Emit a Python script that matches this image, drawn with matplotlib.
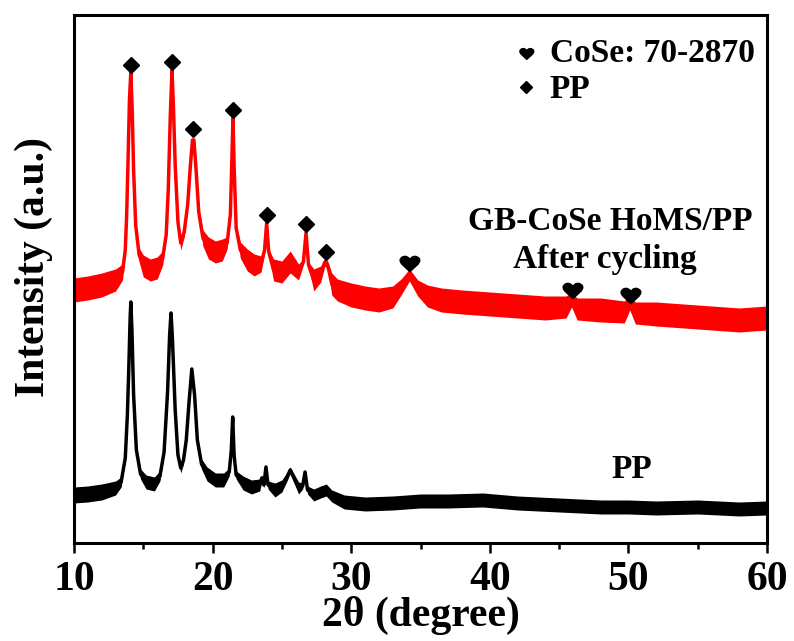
import matplotlib
matplotlib.use("Agg")
import matplotlib.pyplot as plt
import numpy as np
from matplotlib.lines import Line2D
from matplotlib.path import Path
from matplotlib.textpath import TextPath
from matplotlib.font_manager import FontProperties
from matplotlib.ticker import MultipleLocator

plt.rcParams["font.family"] = ["Liberation Serif", "DejaVu Serif"]
plt.rcParams["font.weight"] = "bold"
plt.rcParams["axes.labelweight"] = "bold"

# GB-CoSe HoMS/PP after cycling (red): 2theta, intensity, noise half-width
red_x = [10.0, 11.0, 12.0, 13.0, 13.5, 13.7, 13.8, 13.9, 14.0, 14.1, 14.2, 14.3, 14.45,
         14.7, 15.0, 15.5, 16.0, 16.4, 16.65, 16.8, 16.95, 17.07, 17.17, 17.3, 17.5,
         17.7, 17.95, 18.2, 18.4, 18.55, 18.65, 18.8, 19.0, 19.3, 19.7, 20.2, 20.7,
         21.05, 21.28, 21.38, 21.47, 21.56, 21.7, 22.0, 22.5, 23.0, 23.5, 23.75, 23.9,
         24.05, 24.4, 25.0, 25.6, 26.2, 26.55, 26.74, 26.92, 27.3, 27.8, 28.1, 28.3,
         28.6, 29.0, 30.0, 31.0, 32.0, 33.0, 33.6, 34.2, 34.8, 35.5, 36.5, 38.0, 40.0,
         42.0, 44.0, 45.5, 45.9, 46.3, 48.0, 49.7, 50.1, 50.5, 52.0, 54.0, 56.0, 58.0, 60.0]
red_y = [253, 255, 258, 263, 271, 293, 328, 383, 443, 471, 433, 373, 318,
         288, 277, 273, 275, 285, 308, 353, 428, 473, 438, 378, 321,
         300, 311, 338, 378, 403, 403, 375, 331, 305, 295, 291, 293,
         300, 328, 378, 425, 373, 315, 293, 283, 278, 279, 293, 320,
         291, 273, 271, 281, 271, 281, 310, 278, 263, 269, 281, 278,
         259, 253, 248, 245, 243, 246, 256, 268, 255, 247, 243, 241, 239,
         237, 235, 236, 243, 234, 233, 231, 240, 230, 229, 227, 225, 223, 225]
red_hw = [12, 12, 12, 11, 8, 4, 2, 2, 1, 1, 1, 2, 3,
          7, 11, 11, 11, 7, 3, 2, 1, 1, 1, 2, 4,
          7, 5, 3, 2, 1, 1, 2, 4, 8, 11, 11, 11,
          6, 2, 1, 1, 1, 3, 8, 11, 11, 8, 3, 1,
          3, 11, 11, 11, 8, 3, 1, 3, 11, 8, 4, 4,
          11, 11, 12, 12, 12, 11, 8, 6, 8, 11, 12, 12, 12,
          12, 12, 11, 7, 11, 12, 11, 7, 11, 12, 12, 12, 12, 12]

# PP separator (black)
blk_x = [10.0, 11.0, 12.0, 13.0, 13.4, 13.7, 13.85, 13.95, 14.05, 14.1, 14.18, 14.3, 14.5,
         14.8, 15.2, 15.8, 16.2, 16.5, 16.75, 16.9, 17.0, 17.1, 17.3, 17.5, 17.7, 17.9,
         18.1, 18.3, 18.5, 18.7, 18.9, 19.2, 19.6, 20.2, 20.8, 21.2, 21.35, 21.45, 21.55,
         21.7, 22.2, 22.8, 23.4, 23.55, 23.7, 23.85, 24.0, 24.5, 25.0, 25.4, 25.6, 25.8,
         26.2, 26.5, 26.67, 26.85, 27.3, 27.8, 28.2, 28.6, 29.5, 31.0, 33.0, 35.0, 37.0,
         39.5, 42.0, 45.0, 48.0, 50.0, 52.0, 55.0, 58.0, 60.0]
blk_y = [48, 49, 51, 55, 61, 85, 128, 173, 225, 241, 213, 148, 93,
         69, 61, 59, 67, 91, 151, 208, 230, 205, 133, 88, 75, 83,
         103, 141, 174, 148, 103, 79, 69, 63, 63, 71, 93, 126, 88,
         68, 60, 56, 58, 65, 58, 76, 58, 53, 57, 67, 73, 67,
         55, 57, 71, 53, 48, 51, 53, 47, 41, 39, 40, 42, 42,
         43, 40, 38, 36, 36, 35, 36, 34, 35]
blk_hw = [8, 8, 8, 7, 5, 3, 2, 1, 1, 1, 1, 2, 3,
          5, 7, 7, 5, 3, 2, 1, 1, 1, 2, 3, 5, 4,
          3, 2, 1, 2, 3, 5, 7, 7, 7, 4, 2, 1, 2,
          4, 7, 7, 6, 3, 3, 1, 4, 7, 6, 4, 3, 4,
          6, 3, 1, 4, 6, 6, 6, 6, 7, 7, 7, 7, 7,
          7, 7, 7, 7, 7, 7, 7, 7, 7]

# reflection markers
pp_x = [14.1, 17.07, 18.6, 21.47, 23.9, 26.74, 28.2]
pp_y = [478, 481, 414, 433, 328, 319, 291]
cose_x = [34.2, 45.9, 50.1]
cose_y = [283, 256, 251]

# heart marker, a little wider than the DejaVu glyph
hp = TextPath((0, 0), "\u2665", prop=FontProperties(family="DejaVu Sans"))
hv = hp.vertices.copy()
hv -= hv.mean(axis=0)
hv[:, 0] *= 1.3
heart = Path(hv, hp.codes)

fig = plt.figure(figsize=(7.94, 6.41), dpi=100)
ax = fig.add_axes([0.0932, 0.1529, 0.8728, 0.8237])

for xs, ys, hw, c in [(red_x, red_y, red_hw, "#ff0000"), (blk_x, blk_y, blk_hw, "black")]:
    xs = np.array(xs)
    ys = np.array(ys, dtype=float)
    hw = np.array(hw, dtype=float)
    ax.fill_between(xs, ys - hw, ys + hw, color=c, lw=0)
    ax.plot(xs, ys, color=c, lw=2.5)

ax.plot(pp_x, pp_y, ls="none", marker="D", ms=8.5, color="black")
ax.plot(cose_x, cose_y, ls="none", marker=heart, ms=17, color="black")

ax.text(48.67, 313, "GB-CoSe HoMS/PP", fontsize=24, ha="center", va="baseline")
ax.text(48.3, 275, "After cycling", fontsize=24, ha="center", va="baseline")
ax.text(50.26, 65, "PP", fontsize=24, ha="center", va="baseline")

handles = [Line2D([], [], ls="none", marker=heart, ms=12, color="black"),
           Line2D([], [], ls="none", marker="D", ms=6, color="black")]
ax.legend(handles, ["CoSe: 70-2870", "PP"], loc="upper left", bbox_to_anchor=(0.60, 1.0),
          frameon=False, fontsize=24, handlelength=0.8, handletextpad=0.3,
          labelspacing=0.15, borderaxespad=0.3)

ax.set_xlim(10, 60)
ax.set_ylim(0, 528)
ax.xaxis.set_major_locator(MultipleLocator(10))
ax.xaxis.set_minor_locator(MultipleLocator(5))
ax.set_yticks([])
ax.tick_params(axis="x", which="major", direction="out", length=7, width=1.8, labelsize=30, pad=6)
ax.tick_params(axis="x", which="minor", direction="out", length=4, width=1.8)
for s in ax.spines.values():
    s.set_linewidth(2.2)

ax.set_xlabel("2θ (degree)", fontsize=30, fontweight="bold", labelpad=-2)
ax.set_ylabel("Intensity (a.u.)", fontsize=30, fontweight="bold")
ax.yaxis.set_label_coords(-0.03, 0.523)

fig.savefig("out.png", dpi=100)
